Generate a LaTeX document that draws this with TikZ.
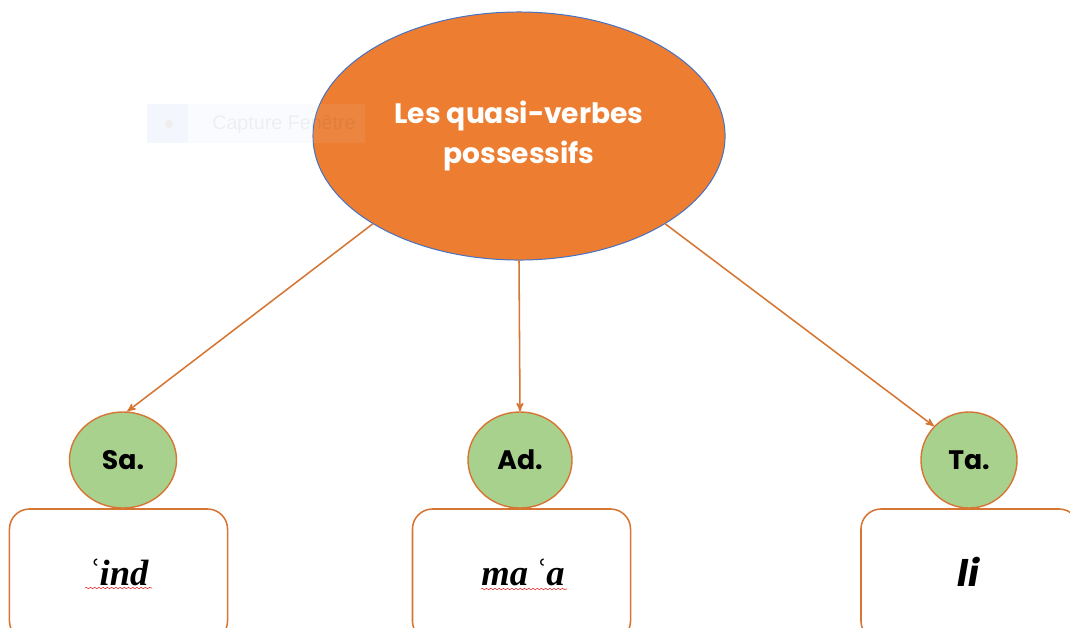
\documentclass[tikz,border=0pt]{standalone}
\usepackage{fontspec}
\setmainfont{Liberation Serif}
\newfontfamily\gothic{Poppins}
\newfontfamily\uifont{Liberation Sans}
\usetikzlibrary{positioning,shapes.geometric,arrows,decorations.pathmorphing}
\definecolor{mindorange}{RGB}{237,125,49}
\definecolor{lineorange}{RGB}{214,118,52}
\definecolor{mindblue}{RGB}{68,114,196}
\definecolor{leafgreen}{RGB}{169,209,142}
\definecolor{spellred}{RGB}{230,40,40}
\definecolor{ghostblue}{RGB}{225,235,250}

\begin{document}
\begin{tikzpicture}[x=0.025cm,y=-0.025cm,->,>=stealth',
    root node/.style={ellipse,draw=mindblue,fill=mindorange,line width=0.7pt,
        minimum width=10.3cm,minimum height=6.2cm,inner sep=0pt,align=center,
        text=white,font=\gothic\bfseries\fontsize{20}{28}\selectfont},
    tag node/.style={ellipse,draw=lineorange,fill=leafgreen,line width=1pt,
        minimum height=2.4cm,inner sep=0pt,font=\gothic\bfseries\fontsize{19}{24}\selectfont},
    word node/.style={draw=lineorange,rounded corners=0.5cm,line width=1.1pt,
        minimum width=5.45cm,minimum height=3.3cm},
    word text/.style={font=\bfseries\itshape\fontsize{26}{30}\selectfont},
    spell/.style={-,draw=spellred,line width=0.4pt,decorate,
        decoration={snake,amplitude=0.5pt,segment length=3pt}}]
\useasboundingbox (0,0) rectangle (1070,627);
\clip (0,0) rectangle (1070,627);
%Nodes
    \node[root node] (root) at (519,136) {Les quasi-verbes\\possessifs};
    \node[tag node, minimum width=2.675cm] (Sa) at (123,460) {Sa.};
    \node[tag node, minimum width=2.6cm] (Ad) at (520,460) {Ad.};
    \node[tag node, minimum width=2.4cm] (Ta) at (969,460) {Ta.};
    \node[word node] (boxSa) at (118.5,575) {};
    \node[word node] (boxAd) at (521.5,575) {};
    \node[word node] (boxTa) at (970,575) {};
    \node[word text] (ind) at (118,572) {ʿind};
    \node[word text] (maa) at (523,572) {ma\,ʿa};
    \node[word text, font=\gothic\bfseries\itshape\fontsize{26}{30}\selectfont] (li) at (968,572) {li};

    \draw[lineorange, line width=1.1pt] (root.211) -- (Sa.85);
    \draw[lineorange, line width=1.1pt] (root.south) -- (Ad.north);
    \draw[lineorange, line width=1.1pt] (root.329) -- (Ta.136);

%spell check marks
    \draw[spell] (85,588) -- (152,588);
    \draw[spell] (481,589) -- (567,589);

%window tooltip
    \fill[ghostblue, opacity=0.2] (147,104) rectangle (313,143);
    \fill[ghostblue, opacity=0.08] (313,104) rectangle (365,143);
    \fill[ghostblue, opacity=0.25] (147,104) rectangle (188,143);
    \fill[mindorange, opacity=0.08] (169,124) circle (4);
    \node[text=black, text opacity=0.05, font=\uifont\fontsize{14}{16}\selectfont] (capture) at (284,124) {Capture Fenêtre};
\end{tikzpicture}
\end{document}
